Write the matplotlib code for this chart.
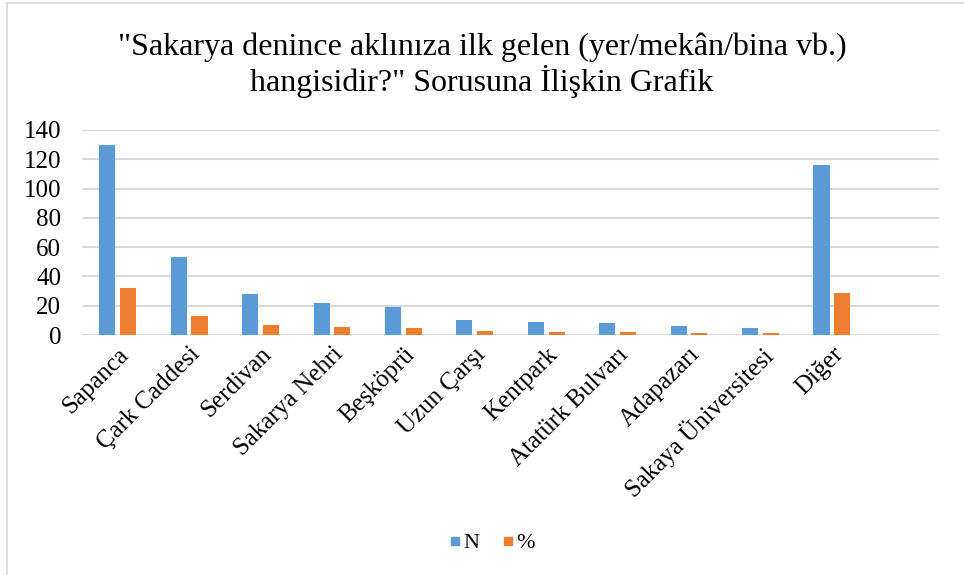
import matplotlib
matplotlib.use("Agg")
import matplotlib.pyplot as plt
import numpy as np
from matplotlib.lines import Line2D

categories = ["Sapanca", "Çark Caddesi", "Serdivan", "Sakarya Nehri", "Beşköprü",
              "Uzun Çarşı", "Kentpark", "Atatürk Bulvarı", "Adapazarı",
              "Sakaya Üniversitesi", "Diğer"]
n_values = [130, 53, 28, 22, 19, 10, 9, 8, 6, 5, 116]
pct_values = [32.0, 13.1, 6.9, 5.4, 4.7, 2.5, 2.2, 2.0, 1.5, 1.2, 28.6]
series_names = ["N", "%"]
yticks = [0, 20, 40, 60, 80, 100, 120, 140]
title = '"Sakarya denince aklınıza ilk gelen (yer/mekân/bina vb.)\nhangisidir?" Sorusuna İlişkin Grafik'

plt.rcParams['font.family'] = ['Liberation Serif', 'DejaVu Serif']

W, H = 964, 575
fig = plt.figure(figsize=(W / 100, H / 100), dpi=100)
ax = fig.add_axes([82 / W, 1 - 335 / H, (939 - 82) / W, (335 - 130) / H])

x = np.arange(len(categories))
bw = 0.225
off = 0.145
ax.bar(x - off, n_values, bw, color="#5B9BD5", label=series_names[0], zorder=3)
ax.bar(x + off, pct_values, bw, color="#ED7D31", label=series_names[1], zorder=3)

ax.set_xlim(-0.5, len(categories) + 0.5)
ax.set_ylim(0, 140)
ax.set_yticks(yticks)
ax.set_yticklabels([str(v) for v in yticks], fontsize=18)
ax.set_xticks(x)
ax.set_xticklabels(categories, rotation=45, ha="right", rotation_mode="anchor", fontsize=18)
ax.tick_params(axis="both", length=0)
ax.tick_params(axis="y", pad=15)
ax.tick_params(axis="x", pad=6)
for s in ax.spines.values():
    s.set_visible(False)
ax.yaxis.grid(True, color="#D9D9D9", linewidth=1.5, zorder=0)
ax.set_axisbelow(True)

fig.text(0.5, 1 - 65 / H, title, ha="center", va="center", fontsize=23, linespacing=1.1)

handles = [Line2D([], [], marker="s", linestyle="none", markersize=6, color="#5B9BD5"),
           Line2D([], [], marker="s", linestyle="none", markersize=6, color="#ED7D31")]
fig.legend(handles, series_names, loc="center", bbox_to_anchor=(491 / W, 1 - 543 / H),
           ncol=2, frameon=False, fontsize=16, handletextpad=0.05, columnspacing=0.9,
           handlelength=0.7)

# chart-area border (extends beyond right/bottom)
fig.add_artist(Line2D([7 / W, 1.0], [1 - 3 / H, 1 - 3 / H], color="#D9D9D9", linewidth=1.2,
                      transform=fig.transFigure))
fig.add_artist(Line2D([7 / W, 7 / W], [0, 1 - 3 / H], color="#D9D9D9", linewidth=1.2,
                      transform=fig.transFigure))

fig.savefig("out.png", dpi=100)
